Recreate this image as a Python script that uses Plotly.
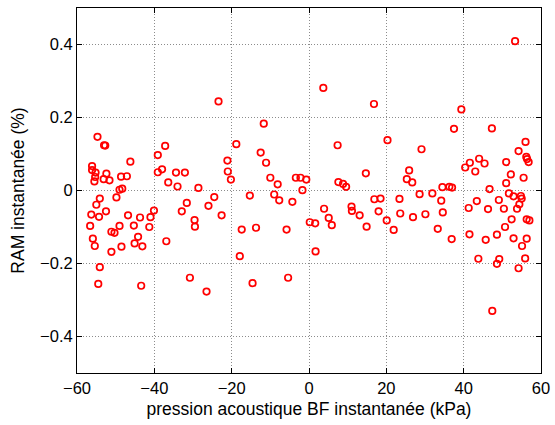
import plotly.graph_objects as go

# pression acoustique BF instantanée (kPa)
x_kpa = [
    -56.1, -56.1, -55.2, -55.3, -55.5, -54.7, -53.0, -52.7, -52.4, -53.1,
    -51.6, -48.6, -47.1, -46.2, -49.0, -48.3, -49.8, -54.1, -55.0, -56.3,
    -54.3, -52.5, -56.6, -55.9, -55.4, -51.1, -50.3, -49.0, -46.8, -45.3,
    -43.7, -41.0, -40.1, -41.3, -44.2, -45.1, -43.1, -48.5, -51.1, -54.1,
    -54.5, -43.4, -36.9, -39.1, -37.2, -38.0, -39.1, -36.4, -34.4, -34.0,
    -32.1, -31.6, -32.9, -30.8,
    -28.6, -24.5, -26.0, -22.6, -29.6, -29.5, -26.5, -23.4, -11.7, -18.8,
    -21.1, -21.0, -20.2, -12.5, -11.1, -10.0, -8.1, -15.3, -9.0, -7.7,
    -4.3, -3.4, -2.2, -0.7, -1.7, 0.2, -17.4, -13.7, -5.8, -17.9,
    -14.6, -5.4,
    3.7, 16.8, 20.3, 7.4, 29.1, 39.4, 37.5, 47.3, 53.3, 56.0,
    54.2, 56.2, 56.4, 56.8, 51.0, 52.2, 51.0, 55.5, 46.7, 40.4,
    41.6, 44.0, 45.4, 43.0, 14.7, 25.9, 25.3, 26.7, 7.6, 8.8,
    9.6, 28.6, 31.9, 34.5, 36.3, 37.0, 16.9, 18.5, 23.4, 34.2,
    43.4, 49.1, 51.7, 52.9, 54.8, 55.0, 54.4, 53.8, 1.6, 1.7,
    3.9, 5.1, 5.9, 11.0, 11.1, 13.1, 14.9, 18.0, 20.1, 21.9,
    23.6, 26.9, 30.1, 33.3, 34.6, 36.9, 41.3, 41.5, 43.8, 45.7,
    46.3, 48.6, 48.6, 49.2, 50.4, 50.7, 52.4, 52.9, 55.1, 54.2,
    55.9, 56.3, 56.3, 57.0, 47.4,
]

# RAM instantanée (%)
y_ram = [
    0.067, 0.056, 0.049, 0.037, 0.025, 0.147, 0.124, 0.123, 0.046, 0.031,
    0.028, 0.038, 0.039, 0.079, 0.002, 0.005, -0.019, -0.022, -0.039, -0.066,
    -0.072, -0.057, -0.097, -0.132, -0.152, -0.113, -0.116, -0.097, -0.068, -0.096,
    -0.074, -0.073, -0.055, -0.100, -0.127, -0.145, -0.153, -0.154, -0.168, -0.210,
    -0.256, -0.261, -0.139, 0.097, 0.122, 0.058, 0.050, 0.022, 0.049, 0.011,
    0.049, -0.034, -0.057, -0.239,
    0.007, -0.018, -0.042, -0.068, -0.081, -0.099, -0.277, 0.244, 0.183, 0.127,
    0.082, 0.052, 0.030, 0.104, 0.076, 0.035, 0.017, -0.014, -0.011, -0.027,
    -0.031, 0.035, 0.035, 0.030, 0.001, -0.087, -0.107, -0.102, -0.107, -0.180,
    -0.254, -0.239,
    0.281, 0.237, 0.138, 0.124, 0.113, 0.222, 0.169, 0.170, 0.409, 0.133,
    0.108, 0.092, 0.086, 0.078, 0.078, 0.044, 0.020, 0.035, 0.004, 0.063,
    0.076, 0.087, 0.074, 0.052, 0.047, 0.055, 0.031, 0.022, 0.023, 0.018,
    0.010, -0.010, -0.008, 0.009, 0.010, 0.008, -0.024, -0.022, -0.023, -0.028,
    -0.029, -0.026, -0.008, -0.016, -0.015, -0.022, -0.038, -0.050, -0.090, -0.167,
    -0.050, -0.075, -0.095, -0.044, -0.056, -0.068, -0.099, -0.057, -0.082, -0.108,
    -0.063, -0.073, -0.065, -0.105, -0.060, -0.133, -0.048, -0.120, -0.187, -0.135,
    -0.051, -0.121, -0.201, -0.188, -0.050, -0.100, -0.079, -0.131, -0.152, -0.213,
    -0.186, -0.132, -0.079, -0.082, -0.330,
]

x_ticks = [-60, -40, -20, 0, 20, 40, 60]
y_ticks = [-0.4, -0.2, 0, 0.2, 0.4]
y_tick_labels = ["−0.4", "−0.2", "0", "0.2", "0.4"]
x_tick_labels = ["−60", "−40", "−20", "0", "20", "40", "60"]

fig = go.Figure()
fig.add_trace(go.Scatter(
    x=x_kpa, y=y_ram, mode="markers",
    marker=dict(symbol="circle-open", size=6.5, color="#ff0000",
                line=dict(color="#ff0000", width=1.7)),
    showlegend=False, hoverinfo="skip",
))

font_family = "Liberation Sans, Arial, Helvetica, sans-serif"
axis_common = dict(
    showline=True, linecolor="black", linewidth=1, mirror="ticks",
    ticks="inside", ticklen=5, tickcolor="black", tickwidth=1,
    showgrid=True, gridcolor="#8c8c8c", griddash="1px,2px", gridwidth=1,
    zeroline=False, automargin=False,
    tickfont=dict(family=font_family, size=16.5, color="black"),
)

fig.update_layout(
    width=555, height=425,
    margin=dict(l=77, r=14, t=8, b=52),
    paper_bgcolor="white", plot_bgcolor="white",
    font=dict(family=font_family, size=16.5, color="black"),
    xaxis=dict(range=[-60, 60], tickvals=x_ticks, ticktext=x_tick_labels,
               title=dict(text="pression acoustique BF instantanée (kPa)",
                          font=dict(family=font_family, size=17.5), standoff=6),
               **axis_common),
    yaxis=dict(range=[-0.5, 0.5], tickvals=y_ticks, ticktext=y_tick_labels,
               title=dict(text="RAM instantanée (%)",
                          font=dict(family=font_family, size=17.5), standoff=10),
               **axis_common),
)

fig.write_html("out.html", config={"displayModeBar": False},
               post_script="document.body.style.margin='0';")
